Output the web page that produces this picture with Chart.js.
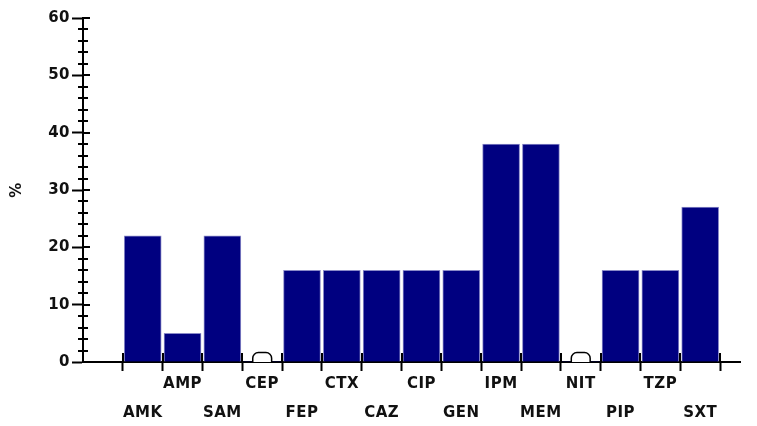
<!DOCTYPE html>
<html>
<head>
<meta charset="utf-8">
<script src="https://cdn.jsdelivr.net/npm/chart.js@4"></script>
<style>
  html, body { margin: 0; padding: 0; background: #fff; }
  #wrap { width: 757px; height: 426px; position: relative; }
</style>
</head>
<body>
<div id="wrap"><canvas id="c"></canvas></div>
<script>
// Antibiotic resistance (%) by agent
const categories = ['AMK', 'AMP', 'SAM', 'CEP', 'FEP', 'CTX', 'CAZ', 'CIP', 'GEN', 'IPM', 'MEM', 'NIT', 'PIP', 'TZP', 'SXT'];
const resistance = [22, 5, 22, 0, 16, 16, 16, 16, 16, 38, 38, 0, 16, 16, 27];
const yTicks = [0, 10, 20, 30, 40, 50, 60];
const yMinorStep = 2;
const yTitle = '%';

// Each category occupies one unit on a linear x axis; the centre of category i sits at i + 1.5
const centre = i => i + 1.5;
const edgeTicks = categories.map((_, i) => i + 1).concat([categories.length + 1]);
const labelTicks = categories.map((_, i) => centre(i));
const xTickValues = edgeTicks.concat(labelTicks).sort((a, b) => a - b);

const barPoints = categories.map((c, i) => ({ x: centre(i), y: resistance[i] }));
const zeroPoints = categories.map((c, i) => ({ x: centre(i), y: resistance[i] }))
  .filter(p => p.y === 0);

const FONT = "'DejaVu Sans', sans-serif";
const INK = '#111';

// Ticks that cross the axis lines (inner halves and minor y ticks)
const crossTicks = {
  id: 'crossTicks',
  beforeDraw(chart) {
    chart.ctx.letterSpacing = '0.5px';
  },
  afterDraw(chart) {
    const { ctx, scales: { x, y } } = chart;
    ctx.save();
    ctx.strokeStyle = '#000';
    ctx.lineWidth = 2;
    ctx.beginPath();
    const ax = Math.round(x.left);
    for (let v = y.min; v <= y.max; v += yMinorStep) {
      const p = Math.round(y.getPixelForValue(v));
      if (yTicks.includes(v)) {
        if (v === 0) continue;
        ctx.moveTo(ax, p); ctx.lineTo(ax + 7, p);
      } else {
        ctx.moveTo(ax - 5, p); ctx.lineTo(ax + 5, p);
      }
    }
    const base = Math.round(y.bottom);
    edgeTicks.forEach(v => {
      const p = Math.round(x.getPixelForValue(v));
      ctx.moveTo(p, base - 9); ctx.lineTo(p, base);
    });
    ctx.stroke();
    ctx.restore();
  }
};

new Chart(document.getElementById('c'), {
  type: 'bar',
  data: {
    datasets: [
      {
        data: barPoints,
        backgroundColor: '#000080',
        borderColor: '#8a8ac8',
        borderWidth: ctx => (ctx.raw && ctx.raw.y === 0 ? 0 : 1),
        borderSkipped: 'bottom',
        barThickness: 37,
        order: 2
      },
      {
        type: 'scatter',
        data: zeroPoints,
        pointStyle: 'rectRounded',
        pointRadius: 11,
        pointHoverRadius: 11,
        backgroundColor: '#fff',
        borderColor: '#000',
        borderWidth: 1.5,
        clip: { left: false, top: false, right: false, bottom: 0 },
        order: 1
      }
    ]
  },
  options: {
    responsive: true,
    maintainAspectRatio: false,
    animation: false,
    layout: { padding: { left: 0, top: 18, right: 17, bottom: 0 } },
    plugins: { legend: { display: false }, tooltip: { enabled: false } },
    scales: {
      x: {
        type: 'linear',
        offset: false,
        min: 0,
        max: categories.length + 1.5,
        z: 1,
        afterBuildTicks: scale => { scale.ticks = xTickValues.map(v => ({ value: v })); },
        afterFit: scale => { scale.height = 64; },
        border: { display: true, color: '#000', width: 2 },
        grid: {
          offset: false,
          drawOnChartArea: false,
          drawTicks: true,
          tickLength: 9,
          tickWidth: 2,
          color: ctx => (ctx.tick && Number.isInteger(ctx.tick.value) ? '#000' : 'rgba(0,0,0,0)')
        },
        ticks: {
          autoSkip: false,
          maxRotation: 0,
          minRotation: 0,
          padding: -1,
          color: INK,
          font: { family: FONT, size: 15, weight: 'bold', lineHeight: '29px' },
          callback: (value) => {
            if (Number.isInteger(value)) return '';
            const i = Math.round(value - 1.5);
            const name = categories[i];
            return i % 2 === 0 ? ['', name] : [name, ''];
          }
        }
      },
      y: {
        min: 0,
        max: 60,
        z: 1,
        afterBuildTicks: scale => { scale.ticks = yTicks.map(v => ({ value: v })); },
        afterFit: scale => { scale.width = 83; },
        border: { display: true, color: '#000', width: 2 },
        grid: {
          drawOnChartArea: false,
          drawTicks: true,
          tickLength: 11,
          tickWidth: 2,
          color: '#000'
        },
        ticks: {
          padding: 2,
          color: INK,
          font: { family: FONT, size: 15, weight: 'bold' }
        },
        title: {
          display: true,
          text: yTitle,
          color: INK,
          padding: { top: 8, bottom: 0 },
          font: { family: FONT, size: 15, weight: 'bold' }
        }
      }
    }
  },
  plugins: [crossTicks]
});
</script>
</body>
</html>
